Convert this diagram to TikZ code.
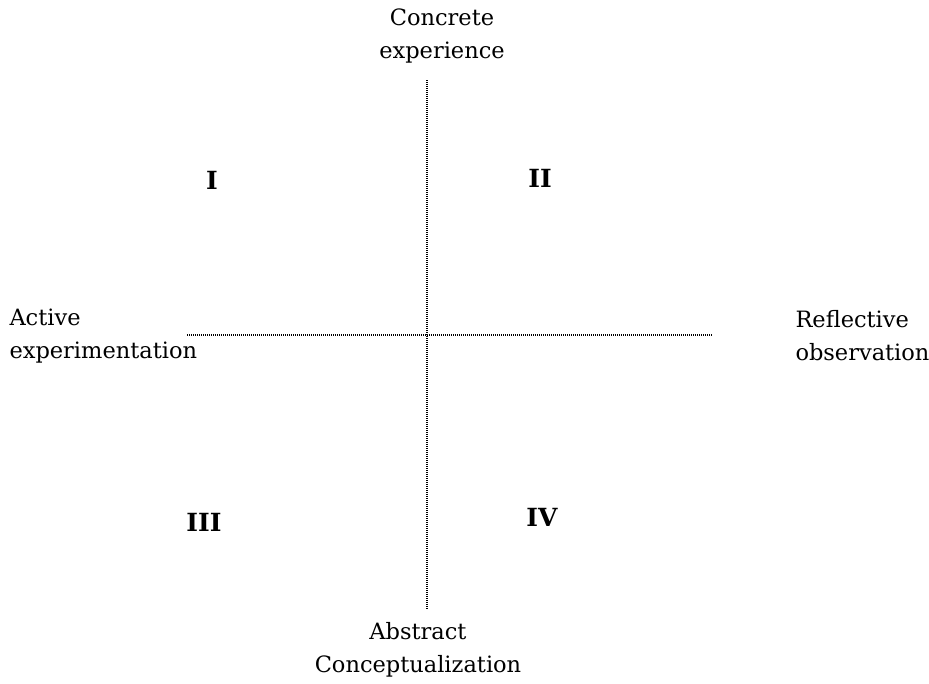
\documentclass[tikz,border=0pt]{standalone}
\usepackage{fontspec}
\setmainfont{DejaVu Serif}
\begin{document}
\begin{tikzpicture}[x=1pt, y=-1pt, line width=1pt]
  \tikzset{axis/.style={dash pattern=on 1pt off 1pt, line width=2pt},
    pole/.style={font=\fontsize{22.5}{33}\selectfont, align=center, inner sep=0pt},
    quad/.style={font=\fontsize{25}{28}\selectfont\bfseries, inner sep=0pt}}
  \useasboundingbox (0,0) rectangle (929,683);
  \coordinate (top) at (427,80);
  \coordinate (bottom) at (427,610);
  \coordinate (left) at (187,335);
  \coordinate (right) at (712,335);
  \draw[axis] (top) -- (bottom);
  \draw[axis] (left) -- (right);
  \node[pole] (ce) at (442,36) {Concrete\\experience};
  \node[pole, align=left, anchor=west] (ae) at (9,336) {Active\\experimentation};
  \node[pole, align=left, anchor=west] (ro) at (795,336) {Reflective\\observation};
  \node[pole] (ac) at (418,650) {Abstract\\Conceptualization};
  \node[quad] (q1) at (212,180) {I};
  \node[quad] (q2) at (540,178) {II};
  \node[quad] (q3) at (204,522) {III};
  \node[quad] (q4) at (542,517) {IV};
\end{tikzpicture}
\end{document}
